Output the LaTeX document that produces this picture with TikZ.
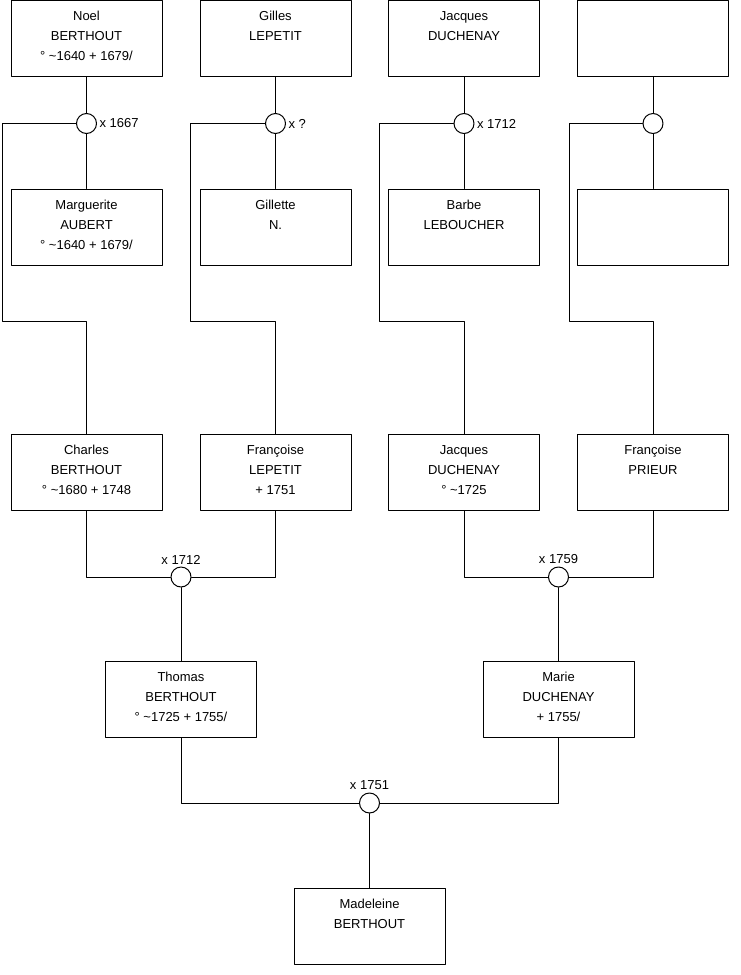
\documentclass[tikz,border=0pt]{standalone}
\usepackage{fontspec}
\setmainfont{Liberation Sans}
\newcommand{\fiche}[1]{\parbox[c][76pt][t]{151pt}{\fontsize{13}{20}\selectfont\centering\rule{0pt}{20pt}#1}}
\begin{document}
\begin{tikzpicture}[x=1pt, y=-1pt, line width=1pt, line cap=round, line join=round,
	personne/.style={draw, fill=white, inner sep=0pt, minimum width=151pt, minimum height=76pt},
	mariage/.style={draw, fill=white, circle, inner sep=0pt, minimum size=20pt},
	date/.style={font=\fontsize{13}{16}\selectfont, inner sep=2pt}]
	\useasboundingbox (0,0) rectangle (740,975);

	% A. Arriere-grands-parents
	\node[personne] (noel) at (86.5,38.5) {\fiche{Noel\\BERTHOUT\\° \textasciitilde1640 + 1679/}};
	\node[personne] (gilles) at (275.5,38.5) {\fiche{Gilles\\LEPETIT}};
	\node[personne] (jacquesA) at (464,38.5) {\fiche{Jacques\\DUCHENAY}};
	\node[personne] (inconnuA) at (653,38.5) {\fiche{}};

	\node[personne] (marguerite) at (86.5,227) {\fiche{Marguerite\\AUBERT\\° \textasciitilde1640 + 1679/}};
	\node[personne] (gillette) at (275.5,227) {\fiche{Gillette\\N.}};
	\node[personne] (barbe) at (464,227) {\fiche{Barbe\\LEBOUCHER}};
	\node[personne] (inconnuB) at (653,227) {\fiche{}};

	\node[mariage] (m1) at (86.5,123.5) {};
	\node[mariage] (m2) at (275.5,123.5) {};
	\node[mariage] (m3) at (464,123.5) {};
	\node[mariage] (m4) at (653,123.5) {};
	\node[date, anchor=west] (d1) at (m1.east) {x 1667};
	\node[date, anchor=west] (d2) at (m2.east) {x ?};
	\node[date, anchor=west] (d3) at (m3.east) {x 1712};

	% B. Grands-parents
	\node[personne] (charles) at (86.5,472.5) {\fiche{Charles\\BERTHOUT\\° \textasciitilde1680 + 1748}};
	\node[personne] (francoiseL) at (275.5,472.5) {\fiche{Françoise\\LEPETIT\\+ 1751}};
	\node[personne] (jacquesD) at (464,472.5) {\fiche{Jacques\\DUCHENAY\\° \textasciitilde1725}};
	\node[personne] (francoiseP) at (653,472.5) {\fiche{Françoise\\PRIEUR}};

	\draw (noel) -- (m1) -- (marguerite);
	\draw (gilles) -- (m2) -- (gillette);
	\draw (jacquesA) -- (m3) -- (barbe);
	\draw (inconnuA) -- (m4) -- (inconnuB);
	\draw (m1) -| (2,321.5) -| (charles);
	\draw (m2) -| (190.5,321.5) -| (francoiseL);
	\draw (m3) -| (379.5,321.5) -| (jacquesD);
	\draw (m4) -| (569,321.5) -| (francoiseP);

	% C. Parents
	\node[mariage] (m5) at (181,577) {};
	\node[mariage] (m6) at (558.5,577) {};
	\node[date, anchor=south] (d5) at (m5.north) {x 1712};
	\node[date, anchor=south] (d6) at (m6.north) {x 1759};

	\node[personne] (thomas) at (181,699.5) {\fiche{Thomas\\BERTHOUT\\° \textasciitilde1725 + 1755/}};
	\node[personne] (marie) at (558.5,699.5) {\fiche{Marie\\DUCHENAY\\+ 1755/}};

	\draw (charles) |- (m5) -| (francoiseL);
	\draw (jacquesD) |- (m6) -| (francoiseP);
	\draw (m5) -- (thomas);
	\draw (m6) -- (marie);

	% D. Enfant
	\node[mariage] (m7) at (369.5,803) {};
	\node[date, anchor=south] (d7) at (m7.north) {x 1751};
	\node[personne] (madeleine) at (369.5,926) {\fiche{Madeleine\\BERTHOUT}};

	\draw (thomas) |- (m7) -| (marie);
	\draw (m7) -- (madeleine);
\end{tikzpicture}
\end{document}
